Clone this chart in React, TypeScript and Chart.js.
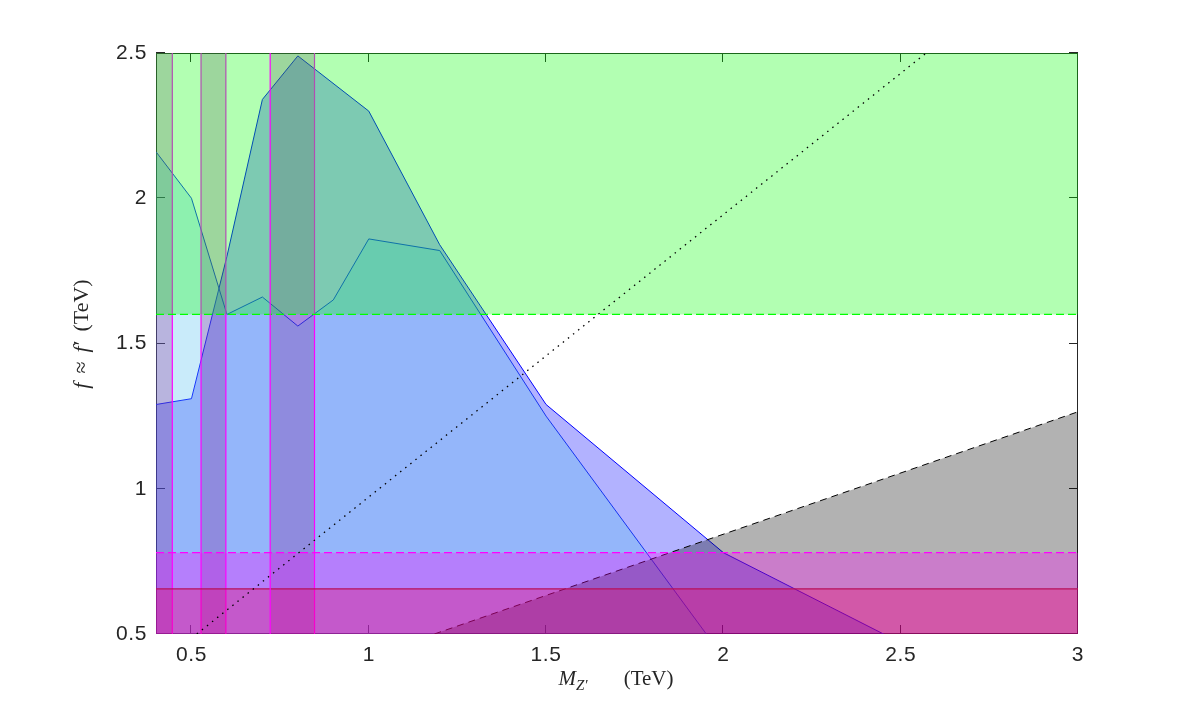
import React, { useEffect, useRef } from 'react';
import { Chart, registerables } from 'chart.js';

Chart.register(...registerables);

// ---- axis ranges & ticks ----
const xMin = 0.4;
const xMax = 3;
const yMin = 0.5;
const yMax = 2.5;
const xTicks = [0.5, 1, 1.5, 2, 2.5, 3];
const yTicks = [0.5, 1, 1.5, 2, 2.5];

// ---- outer (blue) exclusion contour ----
const outerX = [0.4, 0.5, 0.6, 0.7, 0.8, 1.0, 1.2, 1.5, 2.0, 2.5];
const outerY = [1.29, 1.31, 1.8, 2.34, 2.49, 2.3, 1.84, 1.29, 0.78, 0.47];

// ---- inner (light blue) exclusion contour ----
const innerX = [0.4, 0.5, 0.6, 0.7, 0.8, 0.9, 1.0, 1.2, 1.5, 2.0];
const innerY = [2.16, 2.0, 1.6, 1.66, 1.56, 1.65, 1.86, 1.82, 1.25, 0.42];

// ---- vertical excluded mass windows ----
const bandLo = [0.4, 0.527, 0.722];
const bandHi = [0.446, 0.597, 0.847];

// ---- horizontal limits ----
const greenLimit = 1.6;
const magentaLimit = 0.78;
const redLimit = 0.655;

// ---- gray wedge boundary (dashed) ----
const grayLineX = [1.185, 3.0];
const grayLineY = [0.5, 1.265];

// ---- dotted diagonal ----
const dotLineX = [0.515, 2.572];
const dotLineY = [0.5, 2.5];

// ---- axis titles ----
type Part = { t: string; italic?: boolean; sub?: boolean; gap?: number };
const xTitleParts: Part[] = [
  { t: 'M', italic: true },
  { t: 'Z\u2032', italic: true, sub: true },
  { t: '(TeV)', gap: 36 },
];
const yTitleParts: Part[] = [
  { t: 'f', italic: true },
  { t: '\u2248', gap: 9 },
  { t: 'f', italic: true, gap: 9 },
  { t: '\u2032', gap: 1 },
  { t: '(TeV)', gap: 9 },
];

const pts = (xs: number[], ys: number[]) => xs.map((x, i) => ({ x, y: ys[i] }));

const SERIF = "'Liberation Serif', 'DejaVu Serif', serif";
const SANS = "'Liberation Sans', Arial, Helvetica, sans-serif";

function drawParts(ctx: CanvasRenderingContext2D, parts: Part[], size: number) {
  const subSize = Math.round(size * 0.7);
  const fontOf = (p: Part) =>
    `${p.italic ? 'italic ' : ''}${p.sub ? subSize : size}px ${SERIF}`;
  let total = 0;
  const widths = parts.map((p) => {
    ctx.font = fontOf(p);
    const w = ctx.measureText(p.t).width;
    total += w + (p.gap || 0);
    return w;
  });
  let x = -total / 2;
  parts.forEach((p, i) => {
    x += p.gap || 0;
    ctx.font = fontOf(p);
    ctx.fillText(p.t, x, p.sub ? size * 0.22 : 0);
    x += widths[i];
  });
}

const spacingPlugin = {
  id: 'spacing',
  beforeDraw(chart: any) {
    (chart.ctx as any).letterSpacing = '0.6px';
  },
};

const framePlugin = {
  id: 'frame',
  beforeDatasetsDraw(chart: any) {
    const { ctx, chartArea: a, scales } = chart;
    ctx.save();
    ctx.strokeStyle = '#262626';
    ctx.lineWidth = 1;
    ctx.strokeRect(a.left + 0.5, a.top + 0.5, a.right - a.left - 1, a.bottom - a.top - 1);
    const L = 9;
    ctx.beginPath();
    xTicks.forEach((v) => {
      const px = Math.round(scales.x.getPixelForValue(v)) - 0.5;
      ctx.moveTo(px, a.bottom);
      ctx.lineTo(px, a.bottom - L);
      ctx.moveTo(px, a.top);
      ctx.lineTo(px, a.top + L);
    });
    yTicks.forEach((v) => {
      const py = Math.round(scales.y.getPixelForValue(v)) - 0.5;
      ctx.moveTo(a.left, py);
      ctx.lineTo(a.left + L, py);
      ctx.moveTo(a.right, py);
      ctx.lineTo(a.right - L, py);
    });
    ctx.stroke();
    ctx.restore();
  },
};

const titlePlugin = {
  id: 'titles',
  afterDraw(chart: any) {
    const { ctx, chartArea: a } = chart;
    ctx.save();
    (ctx as any).letterSpacing = '0px';
    ctx.fillStyle = '#262626';
    ctx.textBaseline = 'alphabetic';
    ctx.textAlign = 'left';
    ctx.translate((a.left + a.right) / 2 - 1, 685);
    drawParts(ctx, xTitleParts, 21);
    ctx.restore();

    ctx.save();
    (ctx as any).letterSpacing = '0px';
    ctx.fillStyle = '#262626';
    ctx.textBaseline = 'alphabetic';
    ctx.textAlign = 'left';
    ctx.translate(88, 334);
    ctx.rotate(-Math.PI / 2);
    drawParts(ctx, yTitleParts, 22);
    ctx.restore();
  },
};

function buildConfig(): any {
  const datasets: any[] = [];
  const base = { pointRadius: 0, tension: 0, borderWidth: 0 };

  // outer blue region
  datasets.push({
    ...base,
    data: pts(outerX, outerY),
    backgroundColor: 'rgba(0,0,255,0.3)',
    borderColor: '#0000ff',
    borderWidth: 1,
    fill: 'start',
    order: 100,
  });
  // inner light-blue region
  datasets.push({
    ...base,
    data: pts(innerX, innerY),
    backgroundColor: 'rgba(77,190,238,0.3)',
    borderColor: '#1535f0',
    borderWidth: 1,
    fill: 'start',
    order: 90,
  });
  // vertical bands
  bandLo.forEach((lo, i) => {
    datasets.push({
      ...base,
      data: pts([lo, bandHi[i]], [yMax, yMax]),
      backgroundColor: 'rgba(128,0,128,0.23)',
      borderColor: 'rgba(0,0,0,0)',
      fill: 'start',
      order: 80,
    });
    const edges = i === 0 ? [bandHi[i]] : [lo, bandHi[i]];
    edges.forEach((ex) => {
      datasets.push({
        ...base,
        data: pts([ex, ex], [yMin, yMax]),
        borderColor: '#ff00ff',
        borderWidth: 1.2,
        fill: false,
        order: ex === bandLo[2] ? 5 : 75,
      });
    });
  });
  // green region
  datasets.push({
    ...base,
    data: pts([xMin, xMax], [yMax, yMax]),
    backgroundColor: 'rgba(0,255,0,0.3)',
    borderColor: 'rgba(0,0,0,0)',
    fill: { value: greenLimit },
    order: 70,
  });
  // gray wedge
  datasets.push({
    ...base,
    data: pts(grayLineX, grayLineY),
    backgroundColor: 'rgba(0,0,0,0.3)',
    borderColor: '#000000',
    borderWidth: 1,
    borderDash: [7, 5],
    fill: 'start',
    order: 60,
  });
  // magenta band
  datasets.push({
    ...base,
    data: pts([xMin, xMax], [magentaLimit, magentaLimit]),
    backgroundColor: 'rgba(255,0,255,0.3)',
    borderColor: 'rgba(0,0,0,0)',
    fill: 'start',
    order: 50,
  });
  // red band
  datasets.push({
    ...base,
    data: pts([xMin, xMax], [redLimit, redLimit]),
    backgroundColor: 'rgba(230,0,90,0.3)',
    borderColor: 'rgba(0,0,0,0)',
    fill: 'start',
    order: 40,
  });
  // green dashed
  datasets.push({
    ...base,
    data: pts([xMin, xMax], [greenLimit, greenLimit]),
    borderColor: '#00ff00',
    borderWidth: 1.2,
    borderDash: [8, 4],
    fill: false,
    order: 30,
  });
  // magenta dashed
  datasets.push({
    ...base,
    data: pts([xMin, xMax], [magentaLimit, magentaLimit]),
    borderColor: '#ff00ff',
    borderWidth: 1.2,
    borderDash: [8, 4],
    fill: false,
    order: 20,
  });
  // red line
  datasets.push({
    ...base,
    data: pts([xMin, xMax], [redLimit, redLimit]),
    borderColor: '#b8105a',
    borderWidth: 1.2,
    fill: false,
    order: 20,
  });
  // dotted diagonal
  datasets.push({
    ...base,
    data: pts(dotLineX, dotLineY),
    borderColor: '#000000',
    borderWidth: 1.3,
    borderDash: [1.5, 5],
    fill: false,
    order: 10,
  });

  return {
    type: 'line',
    data: { datasets },
    options: {
      animation: false,
      responsive: false,
      events: [],
      layout: { padding: { left: 0, right: 114, top: 53, bottom: 0 } },
      plugins: {
        legend: { display: false },
        tooltip: { enabled: false },
        filler: { propagate: false },
      },
      scales: {
        x: {
          type: 'linear',
          min: xMin,
          max: xMax,
          grid: { display: false, drawTicks: false },
          border: { display: false },
          afterBuildTicks: (s: any) => {
            s.ticks = xTicks.map((v) => ({ value: v }));
          },
          afterFit: (s: any) => {
            s.height = 713 - 634;
          },
          ticks: {
            padding: 9,
            color: '#262626',
            font: { family: SANS, size: 21 },
            maxRotation: 0,
            autoSkip: false,
            callback: (v: number) => String(v),
          },
        },
        y: {
          type: 'linear',
          min: yMin,
          max: yMax,
          grid: { display: false, drawTicks: false },
          border: { display: false },
          afterBuildTicks: (s: any) => {
            s.ticks = yTicks.map((v) => ({ value: v }));
          },
          afterFit: (s: any) => {
            s.width = 156;
          },
          ticks: {
            padding: 9,
            color: '#262626',
            font: { family: SANS, size: 21 },
            autoSkip: false,
            callback: (v: number) => String(v),
          },
        },
      },
    },
    plugins: [spacingPlugin, framePlugin, titlePlugin],
  };
}

export default function App() {
  const ref = useRef<HTMLCanvasElement>(null);
  useEffect(() => {
    if (!ref.current) return;
    const chart = new Chart(ref.current, buildConfig());
    return () => chart.destroy();
  }, []);
  return (
    <div
      style={{
        position: 'fixed',
        left: 0,
        top: 0,
        width: 1192,
        height: 713,
        background: '#ffffff',
      }}
    >
      <canvas ref={ref} width={1192} height={713} style={{ display: 'block' }} />
    </div>
  );
}
